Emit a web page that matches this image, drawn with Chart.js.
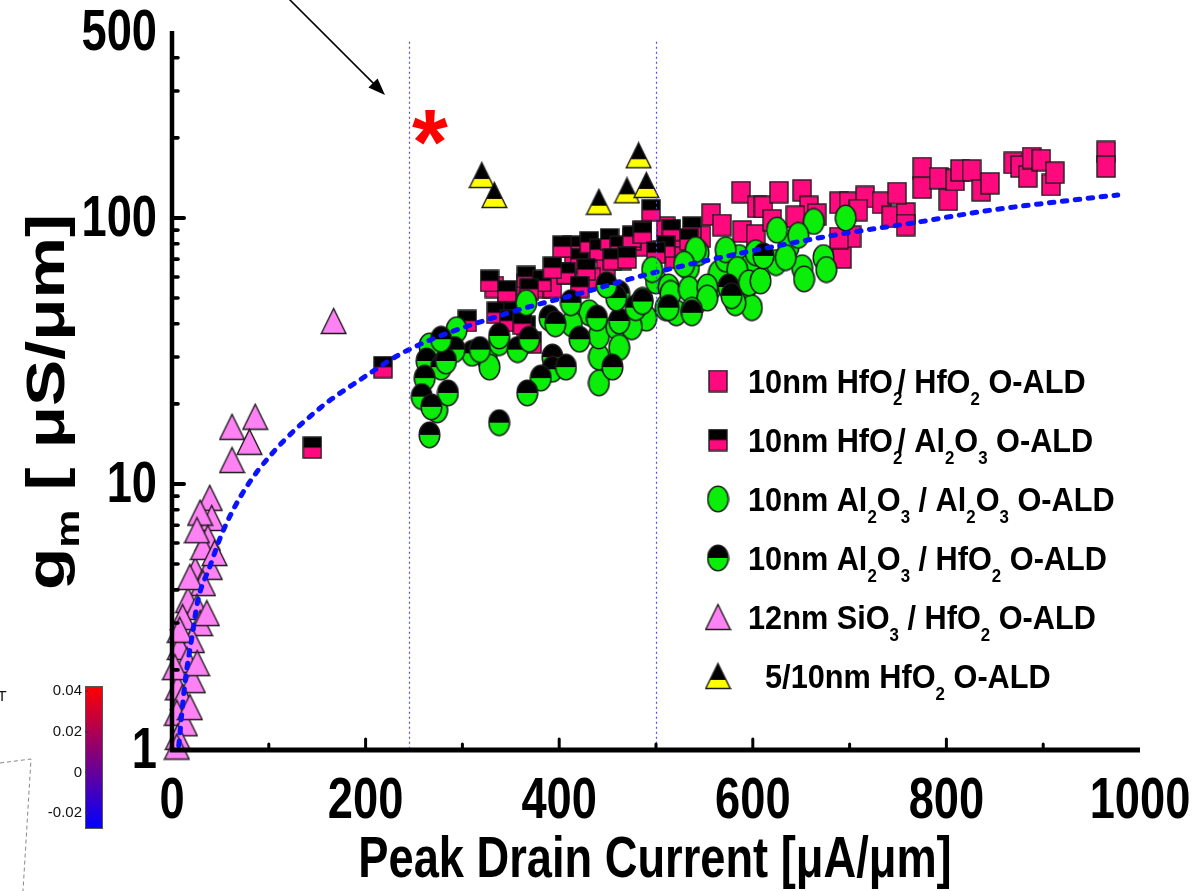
<!DOCTYPE html>
<html>
<head>
<meta charset="utf-8">
<script src="https://cdn.jsdelivr.net/npm/chart.js@4.4.0/dist/chart.umd.min.js"></script>
<style>
  html, body { margin: 0; padding: 0; background: #fff; overflow: hidden; }
  canvas { display: block; }
</style>
</head>
<body>
<canvas id="c" width="1204" height="891"></canvas>
<script>
// gm [µS/µm] versus peak drain current [µA/µm] for several gate-stack splits.
// Each point: [peak drain current, gm]

const hfO2HfO2 = [
  [588,125],[604,110],[557,103],[568,94],[589,89],[603,86],[510,92],[519,81],[547,85],[506,75],
  [519,71],[485,79],[486,89],[475,83],[454,77],[465,70],[415,68],[431,75],[448,64],[433,59],
  [381,55],[366,56],[346,50],[333,55],[393,55],[408,62],[611,110],[627,125],[651,127],[658,110],
  [644,101],[620,98],[666,103],[692,71],[702,85],[689,84],[689,114],[699,114],[716,120],[709,107],
  [733,114],[743,101],[758,104],[758,94],[749,124],[775,154],[775,130],[792,141],[802,117],[809,139],
  [814,151],[826,151],[836,127],[845,135],[869,161],[876,156],[884,143],[888,168],[898,165],[908,133],
  [912,148],[965,177],[965,156]
];

const hfO2Al2O3 = [
  [145,13.7],[218,27.5],[305,41],[328,58],[346,53],[366,60],[382,58],[335,44],[352,44],[413,78],
  [421,70],[431,81],[441,76],[452,83],[462,78],[475,85],[486,88],[495,107],[407,62],[393,65],
  [369,54],[428,64],[455,70],[470,71],[421,55],[372,34],[366,39],[516,90],[537,92],[534,83],
  [510,78],[500,74],[403,78],[348,41],[362,40]
];

const al2O3Al2O3 = [
  [294,38],[366,48],[325,30],[328,27.5],[441,30],[441,24],[482,44],[486,49],[500,58],[513,55],
  [534,65],[544,74],[557,55],[565,62],[572,70],[586,71],[596,65],[593,55],[599,46],[521,44],
  [541,48],[510,46],[496,64],[515,52],[534,54],[541,76],[529,67],[553,55],[572,76],[584,64],
  [603,74],[596,57],[582,48],[553,50],[537,45],[490,42],[431,44],[441,36],[413,40],[459,39],
  [475,39],[462,32.6],[663,97],[696,100],[673,71],[651,65],[637,78],[625,90],[647,86],[624,68],
  [608,58],[676,64],[653,59],[634,71],[274,19],[266,33]
];

const al2O3HfO2 = [
  [263,29],[278,27.5],[261,25],[258,21.3],[285,22],[268,19.5],[266,15.3],[338,17],[310,31],[292,32],
  [338,34],[283,29],[278,35],[318,32],[357,32],[369,35],[393,30],[393,27],[390,42],[412,48],
  [421,35],[439,42],[462,52],[462,41],[479,46],[455,27.5],[407,27.5],[381,25],[367,22],[513,46],
  [537,44],[575,55],[459,50],[338,36],[396,40],[611,72],[578,51],[486,48.5],[449,56]
];

const sio3HfO2 = [
  [167,41],[62,16.4],[86,17.9],[80,14.4],[62,12.3],
  [39,8.87],[41,7.45],[29,7.8],[37,6.27],[24,4.75],[39,4.88],[32,4.24],[16.5,3.66],[25.8,3.45],[29,3.0],
  [11,3.16],[20.6,2.59],[8,2.44],[15.5,2.18],[21.6,1.83],[6,1.72],[11,1.58],[5,1.38],[13.4,1.26],[6,1.12],
  [5,1.03],[18.5,4.47],[32,5.8],[25.8,6.7],[44,5.5],[36,3.27],[8,2.83],[26,2.12],[3,2.05],[18.5,1.45]
];

const hfO2Thin = [[320,145],[333,122],[441,115],[470,127],[482,172],[490,133]];

// dotted trend through the cloud
const trend = [
  [7,1.04],[13.4,1.79],[20.6,2.66],[26.8,3.66],[39,4.88],[51.5,6.5],[73,9.25],[104,13.1],[153,19.3],
  [194,24.6],[244,31.9],[348,44],[421,52],[496,62],[675,85],[771,96.5],[846,107],[915,115],[977,122]
];

// vertical guide lines (peak drain current)
const guideX = [245, 500];

// axis tick values
const xTickLabels = [0, 200, 400, 600, 800, 1000];
const xMajorTicks = [200, 400, 600, 800];
const xMinorTicks = [100, 300, 500, 700, 900];
const yTickLabels = [1, 10, 100, 500];
const yMajorTicks = [10, 100];
const yMinorTicks = [2,3,4,5,6,7,8,9,20,30,40,50,60,70,80,90,200,300,400];

// colour bar
const cbTicks = [0.04, 0.02, 0, -0.02];

// legend entries: text runs, 'n' normal, 's' subscript, 'k' subscript tucked under the next glyph
const legendRows = [
  { m: 'pinkSq',  runs: [['10nm HfO','n'],['2','k'],['/ HfO','n'],['2','s'],[' O-ALD','n']] },
  { m: 'halfSq',  runs: [['10nm HfO','n'],['2','k'],['/ Al','n'],['2','s'],['O','n'],['3','s'],[' O-ALD','n']] },
  { m: 'greenCi', runs: [['10nm Al','n'],['2','s'],['O','n'],['3','s'],[' / Al','n'],['2','s'],['O','n'],['3','s'],[' O-ALD','n']] },
  { m: 'halfCi',  runs: [['10nm Al','n'],['2','s'],['O','n'],['3','s'],[' / HfO','n'],['2','s'],[' O-ALD','n']] },
  { m: 'pinkTri', runs: [['12nm SiO','n'],['3','s'],[' / HfO','n'],['2','s'],[' O-ALD','n']] },
  { m: 'halfTri', runs: [['  5/10nm HfO','n'],['2','s'],[' O-ALD','n']] }
];

const PINK = '#ff0a7e';
const GREEN = '#0aee0a';
const VIOLET = '#ff82f4';
const YELLOW = '#ffff00';
const EDGE = '#1c1c1c';
const FONT = '"Liberation Sans", Arial, Helvetica, sans-serif';

function fontOf(size, bold) { return (bold ? 'bold ' : '') + size + 'px ' + FONT; }

// ---------- marker glyphs ----------
function makeCanvas(w, h) { const c = document.createElement('canvas'); c.width = w; c.height = h; return c; }

function squareMarker(top, bottom) {
  const w = 20, h = 23, c = makeCanvas(w, h), g = c.getContext('2d');
  g.fillStyle = bottom; g.fillRect(1, 1, w - 2, h - 2);
  if (top) { g.fillStyle = top; g.fillRect(1, 1, w - 2, (h - 2) / 2); }
  g.strokeStyle = EDGE; g.lineWidth = 1.4; g.strokeRect(1, 1, w - 2, h - 2);
  return c;
}
function circleMarker(top, bottom) {
  const w = 23, h = 28, c = makeCanvas(w, h), g = c.getContext('2d');
  g.beginPath(); g.ellipse(w / 2, h / 2, w / 2 - 1.2, h / 2 - 1.2, 0, 0, Math.PI * 2);
  g.save(); g.clip();
  g.fillStyle = bottom; g.fillRect(0, 0, w, h);
  if (top) { g.fillStyle = top; g.fillRect(0, 0, w, h / 2); }
  g.restore();
  g.strokeStyle = EDGE; g.lineWidth = 1.5; g.stroke();
  return c;
}
function triangleMarker(fill, band) {
  const w = 27, h = 28, c = makeCanvas(w, h), g = c.getContext('2d');
  g.beginPath(); g.moveTo(w / 2, 1.5); g.lineTo(w - 1.2, h - 1.5); g.lineTo(1.2, h - 1.5); g.closePath();
  g.save(); g.clip();
  g.fillStyle = fill; g.fillRect(0, 0, w, h);
  if (band) { g.fillStyle = band; g.fillRect(0, h * 0.64, w, h * 0.3); }
  g.restore();
  g.strokeStyle = EDGE; g.lineWidth = 1.4; g.lineJoin = 'miter'; g.stroke();
  return c;
}

const markers = {
  pinkSq: squareMarker(null, PINK),
  halfSq: squareMarker('#000', PINK),
  greenCi: circleMarker(null, GREEN),
  halfCi: circleMarker('#000', GREEN),
  pinkTri: triangleMarker(VIOLET, null),
  halfTri: triangleMarker('#000', YELLOW)
};

// ---------- text helpers ----------
function advanceOf(ctx, t, k) {
  const w = ctx.measureText(t).width;
  return k === 'k' ? w * 0.45 : w;
}
function runsWidth(ctx, runs, size, bold, subScale) {
  let w = 0;
  for (const [t, k] of runs) {
    ctx.font = fontOf(k === 'n' ? size : size * subScale, bold);
    w += advanceOf(ctx, t, k);
  }
  return w;
}
function drawRuns(ctx, runs, x, y, o) {
  const size = o.size, bold = o.bold !== false, hs = o.hscale || 1;
  const subScale = o.subScale || 0.6, subDrop = o.subDrop || 0.3;
  ctx.save();
  ctx.translate(x, y);
  if (o.rotate) ctx.rotate(o.rotate);
  ctx.scale(hs, 1);
  const w = runsWidth(ctx, runs, size, bold, subScale);
  let cx = o.align === 'center' ? -w / 2 : o.align === 'right' ? -w : 0;
  ctx.fillStyle = o.color || '#000';
  ctx.textAlign = 'left';
  ctx.textBaseline = 'alphabetic';
  for (const [t, k] of runs) {
    const sub = k !== 'n';
    ctx.font = fontOf(sub ? size * subScale : size, bold);
    ctx.fillText(t, cx, sub ? size * subDrop : 0);
    cx += advanceOf(ctx, t, k);
  }
  ctx.restore();
}

// ---------- frame, labels, legend and notes ----------
const decor = {
  id: 'decor',
  beforeDraw(chart) {
    const ctx = chart.ctx;
    ctx.save(); ctx.fillStyle = '#fff'; ctx.fillRect(0, 0, chart.width, chart.height); ctx.restore();
  },
  afterDatasetsDraw(chart) {
    const ctx = chart.ctx, a = chart.chartArea, xs = chart.scales.x, ys = chart.scales.y;
    ctx.save();

    // dotted guide lines
    ctx.strokeStyle = '#4d4dff'; ctx.lineWidth = 1.2; ctx.setLineDash([2, 3]);
    for (const g of guideX) {
      const px = Math.round(xs.getPixelForValue(g)) + 0.5;
      ctx.beginPath(); ctx.moveTo(px, ys.getPixelForValue(460)); ctx.lineTo(px, a.bottom); ctx.stroke();
    }
    ctx.setLineDash([]);

    // axis lines
    ctx.strokeStyle = '#000'; ctx.lineCap = 'butt';
    ctx.lineWidth = 4.5;
    ctx.beginPath(); ctx.moveTo(a.left, a.top - 1); ctx.lineTo(a.left, a.bottom + 2); ctx.stroke();
    ctx.lineWidth = 5;
    ctx.beginPath(); ctx.moveTo(a.left - 2, a.bottom); ctx.lineTo(a.right, a.bottom); ctx.stroke();

    // y ticks (inside)
    ctx.lineCap = 'round';
    ctx.lineWidth = 4;
    for (const v of yMajorTicks) {
      const py = ys.getPixelForValue(v);
      ctx.beginPath(); ctx.moveTo(a.left, py); ctx.lineTo(a.left + 12, py); ctx.stroke();
    }
    ctx.lineWidth = 3.6;
    for (const v of yMinorTicks) {
      const py = ys.getPixelForValue(v);
      ctx.beginPath(); ctx.moveTo(a.left, py); ctx.lineTo(a.left + 6, py); ctx.stroke();
    }
    // x ticks (inside)
    ctx.lineWidth = 3;
    for (const v of xMajorTicks) {
      const px = xs.getPixelForValue(v);
      ctx.beginPath(); ctx.moveTo(px, a.bottom); ctx.lineTo(px, a.bottom - 11); ctx.stroke();
    }
    for (const v of xMinorTicks) {
      const px = xs.getPixelForValue(v);
      ctx.beginPath(); ctx.moveTo(px, a.bottom); ctx.lineTo(px, a.bottom - 6); ctx.stroke();
    }

    // tick labels
    for (const v of yTickLabels) {
      drawRuns(ctx, [[String(v), 'n']], 157, ys.getPixelForValue(v) + 18, { size: 58, hscale: 0.78, align: 'right' });
    }
    for (const v of xTickLabels) {
      drawRuns(ctx, [[String(v), 'n']], xs.getPixelForValue(v), 818, { size: 58, hscale: 0.78, align: 'center' });
    }

    // axis titles
    drawRuns(ctx, [['Peak Drain Current [\u03bcA/\u03bcm]', 'n']], 655, 877, { size: 58, hscale: 0.78, align: 'center' });
    drawRuns(ctx, [['g', 'n'], ['m', 's'], [' [ \u03bcS/\u03bcm]', 'n']], 64, 402,
      { size: 54, hscale: 1.28, align: 'center', rotate: -Math.PI / 2, subScale: 0.62, subDrop: 0.28 });

    // legend
    legendRows.forEach((row, i) => {
      const cy = 381 + i * 59;
      const img = markers[row.m];
      ctx.drawImage(img, 718 - img.width / 2, cy - img.height / 2);
      drawRuns(ctx, row.runs, 748, cy + 12, { size: 33, hscale: 0.93, subScale: 0.55, subDrop: 0.36 });
    });

    // arrow
    ctx.strokeStyle = '#000'; ctx.fillStyle = '#000'; ctx.lineWidth = 1.6; ctx.lineCap = 'butt';
    const ax0 = 288, ay0 = -2, ax1 = 385, ay1 = 95;
    const ang = Math.atan2(ay1 - ay0, ax1 - ax0);
    ctx.beginPath(); ctx.moveTo(ax0, ay0); ctx.lineTo(ax1 - 10 * Math.cos(ang), ay1 - 10 * Math.sin(ang)); ctx.stroke();
    ctx.beginPath();
    ctx.moveTo(ax1, ay1);
    ctx.lineTo(ax1 - 17 * Math.cos(ang) + 6.5 * Math.sin(ang), ay1 - 17 * Math.sin(ang) - 6.5 * Math.cos(ang));
    ctx.lineTo(ax1 - 17 * Math.cos(ang) - 6.5 * Math.sin(ang), ay1 - 17 * Math.sin(ang) + 6.5 * Math.cos(ang));
    ctx.closePath(); ctx.fill();

    // red asterisk
    ctx.font = fontOf(92, true);
    ctx.fillStyle = '#ff0000';
    ctx.textAlign = 'center'; ctx.textBaseline = 'alphabetic';
    const mt = ctx.measureText('*');
    const asc = mt.actualBoundingBoxAscent, desc = mt.actualBoundingBoxDescent;
    ctx.fillText('*', 430, 127 + (asc - desc) / 2);

    // colour bar
    const cbX = 85, cbY = 686, cbW = 18, cbH = 143;
    const grad = ctx.createLinearGradient(0, cbY, 0, cbY + cbH);
    grad.addColorStop(0, '#ff0000'); grad.addColorStop(0.5, '#7f0080'); grad.addColorStop(1, '#0000ff');
    ctx.fillStyle = grad; ctx.fillRect(cbX, cbY, cbW, cbH);
    ctx.strokeStyle = '#555'; ctx.lineWidth = 1; ctx.strokeRect(cbX + 0.5, cbY + 0.5, cbW - 1, cbH - 1);
    ctx.fillStyle = '#111'; ctx.font = '15px ' + FONT; ctx.textAlign = 'right'; ctx.textBaseline = 'middle';
    ctx.strokeStyle = '#333';
    for (const v of cbTicks) {
      const py = 691 + (0.04 - v) / 0.02 * 40.7;
      ctx.fillText(String(v), 82, py);
      ctx.beginPath(); ctx.moveTo(cbX, py); ctx.lineTo(cbX + 3, py); ctx.stroke();
    }

    // fragment of a neighbouring 3-D box
    ctx.fillStyle = '#111'; ctx.font = '15px ' + FONT; ctx.textAlign = 'center'; ctx.textBaseline = 'middle';
    ctx.fillText('T', 2, 697);
    ctx.strokeStyle = '#888'; ctx.lineWidth = 1; ctx.setLineDash([4, 3]);
    ctx.beginPath(); ctx.moveTo(0, 763); ctx.lineTo(31, 759); ctx.lineTo(23, 891); ctx.stroke();
    ctx.setLineDash([]);

    ctx.restore();
  }
};

const pts = arr => arr.map(([x, y]) => ({ x, y }));
const markerSet = (label, arr, key, order) => ({
  type: 'scatter', label, data: pts(arr), pointStyle: markers[key],
  pointRadius: 11, pointHoverRadius: 11, clip: false, order
});

new Chart(document.getElementById('c'), {
  type: 'scatter',
  data: {
    datasets: [
      { type: 'line', label: 'trend', data: pts(trend), borderColor: '#0a12ff', borderWidth: 5,
        borderDash: [4.5, 8.5], borderCapStyle: 'round', pointRadius: 0, fill: false,
        cubicInterpolationMode: 'monotone', order: 0 },
      markerSet('5/10nm HfO2 O-ALD', hfO2Thin, 'halfTri', 1),
      markerSet('10nm Al2O3 / HfO2 O-ALD', al2O3HfO2, 'halfCi', 2),
      markerSet('10nm Al2O3 / Al2O3 O-ALD', al2O3Al2O3, 'greenCi', 3),
      markerSet('12nm SiO3 / HfO2 O-ALD', sio3HfO2, 'pinkTri', 4),
      markerSet('10nm HfO2/ Al2O3 O-ALD', hfO2Al2O3, 'halfSq', 5),
      markerSet('10nm HfO2/ HfO2 O-ALD', hfO2HfO2, 'pinkSq', 6)
    ]
  },
  options: {
    responsive: false,
    animation: false,
    devicePixelRatio: 1,
    events: [],
    layout: { padding: { left: 172, right: 64, top: 32, bottom: 141 } },
    plugins: { legend: { display: false }, tooltip: { enabled: false } },
    scales: {
      x: { type: 'linear', min: 0, max: 1000, display: false },
      y: { type: 'logarithmic', min: 1, max: 500, display: false }
    }
  },
  plugins: [decor]
});
</script>
</body>
</html>
